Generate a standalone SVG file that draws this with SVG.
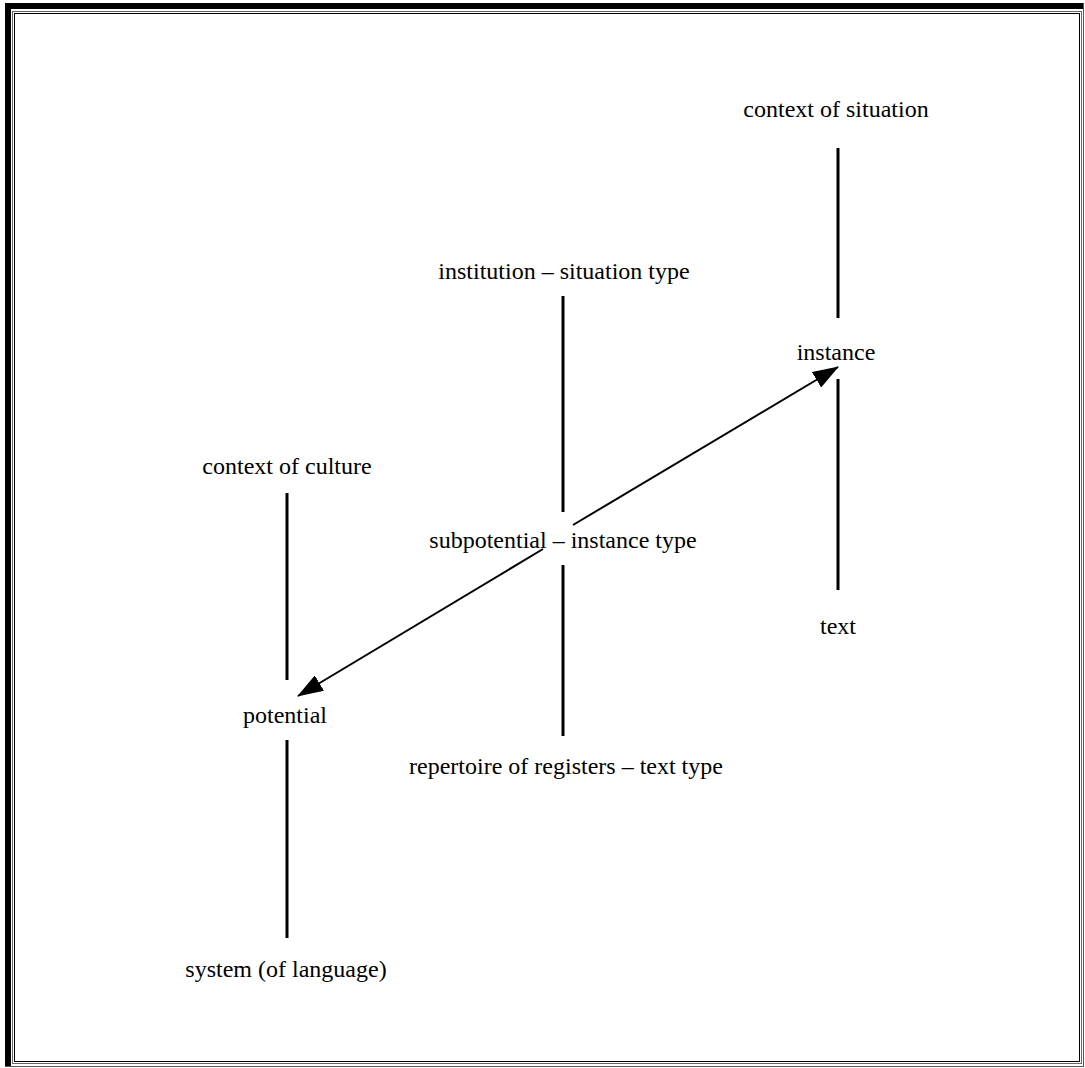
<svg xmlns="http://www.w3.org/2000/svg" width="1085" height="1068" viewBox="0 0 1085 1068">
<defs>
<style>
.t{font-family:"Liberation Serif","Times New Roman",serif;font-size:24px;fill:#000;text-anchor:middle}
.v{stroke:#000;stroke-width:3;fill:none}
.a{stroke:#000;stroke-width:2;fill:none}
</style>
<marker id="ah2" markerWidth="26" markerHeight="18" refX="25" refY="9" orient="auto" markerUnits="userSpaceOnUse" viewBox="0 0 26 18">
<path d="M0,0 L26,9 L0,18 z" fill="#000"/>
</marker>
</defs>
<rect width="1085" height="1068" fill="#fff"/>
<g id="frame">
<rect x="5" y="3" width="6" height="1064" fill="#000"/>
<rect x="5" y="3" width="1079" height="6" fill="#000"/>
<line x1="1083.5" y1="3" x2="1083.5" y2="1067" stroke="#555" stroke-width="1"/>
<line x1="5" y1="1066.5" x2="1084" y2="1066.5" stroke="#555" stroke-width="1"/>
<rect x="12.5" y="11.5" width="1069" height="1052" fill="none" stroke="#666" stroke-width="1"/>
<rect x="14.5" y="13.5" width="1065" height="1048" fill="none" stroke="#000" stroke-width="1"/>
</g>
<g id="connectors">
<line class="v" x1="838" y1="148" x2="838" y2="318"/>
<line class="v" x1="838" y1="379" x2="838" y2="590"/>
<line class="v" x1="563" y1="296" x2="563" y2="512"/>
<line class="v" x1="563" y1="565" x2="563" y2="736"/>
<line class="v" x1="287" y1="493" x2="287" y2="680"/>
<line class="v" x1="287" y1="740" x2="287" y2="938"/>
<line class="a" x1="573" y1="525" x2="838" y2="367" marker-end="url(#ah2)"/>
<line class="a" x1="543" y1="549" x2="298" y2="696" marker-end="url(#ah2)"/>
</g>
<g id="n-context-situation"><text class="t" x="836" y="117">context of situation</text></g>
<g id="n-instance"><text class="t" x="836" y="360">instance</text></g>
<g id="n-text"><text class="t" x="838" y="634">text</text></g>
<g id="n-institution"><text class="t" x="564" y="279">institution – situation type</text></g>
<g id="n-subpotential"><text class="t" x="563" y="548">subpotential – instance type</text></g>
<g id="n-repertoire"><text class="t" x="566" y="774">repertoire of registers – text type</text></g>
<g id="n-context-culture"><text class="t" x="287" y="474">context of culture</text></g>
<g id="n-potential"><text class="t" x="285" y="723">potential</text></g>
<g id="n-system"><text class="t" x="286" y="977">system (of language)</text></g>
</svg>
